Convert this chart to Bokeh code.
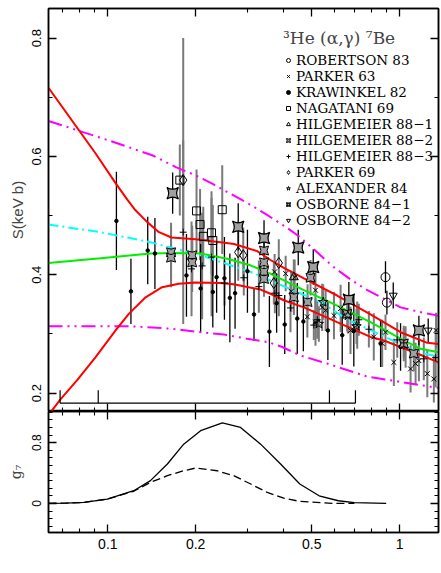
import numpy as np
from bokeh.plotting import figure
from bokeh.models import (Range1d, FixedTicker, LogAxis, LinearAxis, Legend,
                          LegendItem, Label)
from bokeh.layouts import column
from bokeh.embed import file_html
from bokeh.resources import INLINE

# ---------------- axes ----------------
E_MIN, E_MAX = 0.0626, 1.36
S_MIN, S_MAX = 0.169, 0.85
G_MIN, G_MAX = -0.383, 1.21
E_TICKS = [0.1, 0.2, 0.5, 1.0]
E_MINOR = [0.07, 0.08, 0.09, 0.3, 0.4, 0.6, 0.7, 0.8, 0.9]
S_TICKS = [0.2, 0.4, 0.6, 0.8]
S_MINOR = [0.3, 0.5, 0.7]
G_TICKS = [0.0, 0.8]
G_MINOR = [-0.3, -0.2, -0.1, 0.1, 0.2, 0.3, 0.4, 0.5, 0.6, 0.7, 0.9, 1.0, 1.1, 1.2]

# ---------------- model curves (S-factor, keV b) ----------------
RED_UP_E = [0.0626, 0.0908, 0.1063, 0.1166, 0.1244, 0.1365, 0.1497, 0.1653, 0.2, 0.2434,
            0.2706, 0.325, 0.361, 0.40, 0.47, 0.611, 0.795, 1.008, 1.245, 1.36]
RED_UP_S = [0.716, 0.605, 0.555, 0.527, 0.509, 0.489, 0.472, 0.463, 0.460, 0.455,
            0.452, 0.440, 0.425, 0.412, 0.394, 0.365, 0.333, 0.303, 0.285, 0.283]
RED_LO_E = [0.0626, 0.0689, 0.0785, 0.0908, 0.1063, 0.118, 0.1347, 0.1535, 0.175, 0.2,
            0.2434, 0.27, 0.334, 0.361, 0.401, 0.47, 0.611, 0.795, 0.884, 1.15, 1.36]
RED_LO_S = [0.163, 0.19, 0.222, 0.261, 0.306, 0.334, 0.362, 0.379, 0.385, 0.387,
            0.386, 0.384, 0.375, 0.368, 0.357, 0.345, 0.320, 0.295, 0.289, 0.267, 0.252]
GREEN_E = [0.0626, 0.0944, 0.140, 0.168, 0.208, 0.2566, 0.308, 0.361, 0.381, 0.47,
           0.611, 0.795, 1.008, 1.18, 1.36]
GREEN_S = [0.420, 0.428, 0.436, 0.437, 0.436, 0.427, 0.416, 0.402, 0.396, 0.374,
           0.348, 0.320, 0.292, 0.275, 0.269]
CYAN_E = [0.0626, 0.0944, 0.14, 0.208, 0.308, 0.417, 0.536, 0.66, 0.85, 1.135, 1.36]
CYAN_S = [0.485, 0.472, 0.455, 0.433, 0.405, 0.377, 0.354, 0.325, 0.300, 0.270, 0.262]
MAG_UP_E = [0.0626, 0.1008, 0.142, 0.171, 0.2, 0.228, 0.25, 0.304, 0.347, 0.407, 0.455,
            0.595, 0.68, 0.775, 1.008, 1.2, 1.36]
MAG_UP_S = [0.660, 0.627, 0.602, 0.582, 0.568, 0.554, 0.543, 0.520, 0.503, 0.481, 0.464,
            0.413, 0.392, 0.374, 0.345, 0.336, 0.331]
MAG_LO_E = [0.0626, 0.1196, 0.164, 0.208, 0.25, 0.30, 0.356, 0.396, 0.455, 0.565, 0.775,
            1.008, 1.311, 1.36]
MAG_LO_S = [0.313, 0.313, 0.309, 0.303, 0.299, 0.292, 0.286, 0.278, 0.264, 0.250, 0.228,
            0.219, 0.210, 0.209]

# energy-range bracket at the bottom of the upper panel
RANGE_E = [0.0686, 0.0927, 0.575, 0.706]
RANGE_BASE = 0.183
RANGE_TOP = 0.205

# ---------------- data sets ----------------
ROB_E = [0.895, 0.905]
ROB_S = [0.396, 0.353]
ROB_ERR = [0.027, 0.02]

P63_E = [0.373, 0.407, 0.4253, 0.437, 0.483, 0.515, 0.515, 0.543, 0.558, 0.596, 0.628,
         0.679, 0.716, 0.816, 0.872, 0.895, 0.956, 1.049, 1.091, 1.135, 1.165, 1.245,
         1.311, 1.334]
P63_S = [0.405, 0.402, 0.372, 0.396, 0.329, 0.374, 0.320, 0.345, 0.340, 0.331, 0.343,
         0.306, 0.315, 0.295, 0.284, 0.303, 0.252, 0.278, 0.241, 0.250, 0.255, 0.233,
         0.224, 0.306]
P63_ERR = [0.03, 0.03, 0.035, 0.03, 0.035, 0.04, 0.04, 0.04, 0.035, 0.04, 0.04,
           0.04, 0.04, 0.04, 0.04, 0.03, 0.04, 0.035, 0.04, 0.035, 0.035, 0.04,
           0.04, 0.03]

KRAW_E = [0.107, 0.120, 0.137, 0.145, 0.186, 0.208, 0.229, 0.236, 0.251, 0.262, 0.273,
          0.301, 0.317, 0.358, 0.379, 0.404, 0.446, 0.468, 0.568, 0.636, 0.697, 0.861,
          1.008]
KRAW_S = [0.491, 0.372, 0.441, 0.436, 0.399, 0.377, 0.371, 0.396, 0.394, 0.361, 0.369,
          0.406, 0.333, 0.304, 0.352, 0.316, 0.326, 0.321, 0.306, 0.298, 0.305, 0.284,
          0.278]
KRAW_ERR = [0.083, 0.055, 0.057, 0.06, 0.07, 0.075, 0.06, 0.06, 0.07, 0.075, 0.06,
            0.07, 0.045, 0.06, 0.05, 0.05, 0.06, 0.05, 0.05, 0.05, 0.06, 0.04, 0.04]

NAG_E = [0.1765, 0.2014, 0.2071, 0.2124, 0.2267, 0.2290, 0.2467]
NAG_S = [0.560, 0.508, 0.485, 0.465, 0.471, 0.458, 0.510]
NAG_ERR = [0.06, 0.07, 0.06, 0.05, 0.07, 0.06, 0.075]

H1_E = [0.434]
H1_S = [0.396]
H1_ERR = [0.03]

H2_E = [0.1647, 0.1647, 0.1946, 0.1946, 0.3431, 0.3431, 0.3431, 0.3431, 0.4343, 0.4838,
        0.4953, 0.6617, 1.034, 1.119]
H2_S = [0.438, 0.429, 0.433, 0.421, 0.441, 0.421, 0.405, 0.393, 0.362, 0.354,
        0.395, 0.334, 0.284, 0.267]
H2_ERR = [0.05, 0.05, 0.05, 0.05, 0.03, 0.03, 0.03, 0.03, 0.03, 0.03,
          0.03, 0.03, 0.03, 0.03]

H3_E = [0.1813, 0.1936, 0.2105, 0.2267, 0.2513, 0.2925, 0.3294, 0.3737, 0.3856, 0.4228,
        0.5083, 0.5223, 0.725, 0.785, 0.982, 1.034, 1.211, 1.33]
H3_S = [0.472, 0.41, 0.415, 0.43, 0.386, 0.395, 0.38, 0.369, 0.365, 0.344,
        0.315, 0.324, 0.324, 0.308, 0.29, 0.285, 0.258, 0.26]
H3_ERR = [0.155, 0.08, 0.09, 0.10, 0.038, 0.03, 0.044, 0.034, 0.035, 0.041,
          0.025, 0.032, 0.027, 0.031, 0.03, 0.025, 0.036, 0.05]

P69_E = [0.1813, 0.2799, 0.2912, 0.3707, 0.3855]
P69_S = [0.560, 0.438, 0.433, 0.386, 0.420]
P69_LO = [0.475, 0.39, 0.39, 0.35, 0.38]
P69_HI = [0.800, 0.49, 0.48, 0.42, 0.46]

ALEX_E = [0.5289, 0.5474, 0.665, 0.7118]
ALEX_S = [0.317, 0.354, 0.331, 0.313]
ALEX_ERR = [0.03, 0.03, 0.03, 0.03]

OS1_E = [0.1668, 0.2799, 0.3431, 0.4495, 0.5060, 0.6702, 1.165]
OS1_S = [0.538, 0.481, 0.462, 0.446, 0.413, 0.358, 0.306]
OS1_ERR = [0.035, 0.04, 0.03, 0.03, 0.03, 0.03, 0.025]

OS2_E = [0.9515, 1.254]
OS2_S = [0.365, 0.306]
OS2_ERR = [0.022, 0.02]

# ---------------- g7 weighting (lower panel) ----------------
G_SOLID_E = [0.0626, 0.072, 0.0828, 0.0995, 0.1227, 0.140, 0.160, 0.182, 0.208, 0.247,
             0.285, 0.334, 0.391, 0.455, 0.53, 0.617, 0.70, 0.90]
G_SOLID = [0.0, 0.005, 0.013, 0.057, 0.167, 0.30, 0.519, 0.78, 0.958, 1.06,
           1.0, 0.78, 0.519, 0.255, 0.10, 0.035, 0.009, 0.0]
G_DASH_E = [0.0626, 0.072, 0.0828, 0.0995, 0.1227, 0.140, 0.160, 0.182, 0.2, 0.237,
            0.27, 0.309, 0.352, 0.401, 0.455, 0.595, 0.70]
G_DASH = [0.0, 0.005, 0.013, 0.057, 0.16, 0.277, 0.365, 0.43, 0.466, 0.43,
          0.365, 0.255, 0.145, 0.07, 0.026, 0.0, 0.0]

GRAY = "#7a7a7a"
FILL_GRAY = "#a0a0a0"
SANS = "Liberation Sans"
SERIF = "DejaVu Serif"


def style_axis(ax, labels=True, size="13px", major=8, minor=4):
    ax.major_tick_in = major
    ax.major_tick_out = 0
    ax.minor_tick_in = minor
    ax.minor_tick_out = 0
    ax.axis_line_color = "black"
    ax.axis_line_width = 1.5
    ax.major_tick_line_width = 1.3
    ax.minor_tick_line_width = 1.1
    ax.major_label_text_font = SANS
    ax.major_label_text_color = "black"
    ax.major_label_text_font_size = size
    if not labels:
        ax.major_label_text_font_size = "0px"
        ax.major_label_text_color = None
        ax.major_label_standoff = 0
        ax.axis_label = None


def bars(p, E, S, err, color, width):
    S = np.asarray(S)
    err = np.asarray(err)
    p.segment(x0=E, y0=S - err, x1=E, y1=S + err, line_color=color, line_width=width)


# ================= upper panel =================
top = figure(width=441, height=411, x_axis_type="log",
             x_range=Range1d(E_MIN, E_MAX), y_range=Range1d(S_MIN, S_MAX),
             output_backend="svg", toolbar_location=None,
             min_border_left=48, min_border_right=3, min_border_top=8, min_border_bottom=0,
             outline_line_color="black", outline_line_width=1.5)
top.grid.visible = False

top.xaxis.ticker = FixedTicker(ticks=E_TICKS, minor_ticks=E_MINOR)
style_axis(top.xaxis[0], labels=False)
top.yaxis.ticker = FixedTicker(ticks=S_TICKS, minor_ticks=S_MINOR)
style_axis(top.yaxis[0], labels=True, size="13px")
top.yaxis.major_label_orientation = "vertical"
top.yaxis.major_label_standoff = 7
top.yaxis.axis_label = "S(keV b)"
top.yaxis.axis_label_text_font = SANS
top.yaxis.axis_label_text_font_size = "15px"
top.yaxis.axis_label_text_font_style = "normal"
top.yaxis.axis_label_standoff = 4

ax_above = LogAxis(ticker=FixedTicker(ticks=E_TICKS, minor_ticks=E_MINOR))
style_axis(ax_above, labels=False)
top.add_layout(ax_above, "above")
ax_right = LinearAxis(ticker=FixedTicker(ticks=S_TICKS, minor_ticks=S_MINOR))
style_axis(ax_right, labels=False)
top.add_layout(ax_right, "right")

# error bars
bars(top, H3_E, H3_S, H3_ERR, GRAY, 2)
bars(top, NAG_E, NAG_S, NAG_ERR, GRAY, 2)
bars(top, H2_E, H2_S, H2_ERR, GRAY, 2)
bars(top, P63_E, P63_S, P63_ERR, GRAY, 2)
top.segment(x0=P69_E, y0=P69_LO, x1=P69_E, y1=P69_HI, line_color=GRAY, line_width=2)
bars(top, ALEX_E, ALEX_S, ALEX_ERR, GRAY, 2)
bars(top, H1_E, H1_S, H1_ERR, GRAY, 2)
bars(top, KRAW_E, KRAW_S, KRAW_ERR, "black", 1.3)
bars(top, ROB_E, ROB_S, ROB_ERR, "black", 1.3)
bars(top, OS1_E, OS1_S, OS1_ERR, "black", 1.3)
bars(top, OS2_E, OS2_S, OS2_ERR, "black", 1.3)

# curves
top.line(MAG_UP_E, MAG_UP_S, line_color="#ff00ff", line_width=2, line_dash="14 5 2 5 2 5")
top.line(MAG_LO_E, MAG_LO_S, line_color="#ff00ff", line_width=2, line_dash="14 5 2 5 2 5")
top.line(CYAN_E, CYAN_S, line_color="#00ffff", line_width=2, line_dash="10 4 2 4")
top.line(GREEN_E, GREEN_S, line_color="#00ee00", line_width=2)
top.line(RED_UP_E, RED_UP_S, line_color="#ff0000", line_width=2)
top.line(RED_LO_E, RED_LO_S, line_color="#ff0000", line_width=2)

# energy range bracket
top.segment(x0=RANGE_E[0], y0=RANGE_BASE, x1=RANGE_E[-1], y1=RANGE_BASE, line_color="black", line_width=1.2)
top.segment(x0=RANGE_E, y0=[RANGE_BASE] * 4, x1=RANGE_E, y1=[RANGE_TOP] * 4,
            line_color="black", line_width=1.2)

# markers
r_rob = top.scatter(ROB_E, ROB_S, marker="circle", size=9, fill_color=None, line_color="black", line_width=1)
r_p63 = top.scatter(P63_E, P63_S, marker="x", size=7, line_color="black", line_width=1)
r_kraw = top.scatter(KRAW_E, KRAW_S, marker="circle", size=3.5, fill_color="black", line_color="black")
r_nag = top.scatter(NAG_E, NAG_S, marker="square", size=8, fill_color=None, line_color="black", line_width=1)
r_h1 = top.scatter(H1_E, H1_S, marker="triangle", size=9, fill_color=None, line_color="black", line_width=1)
r_h2 = top.scatter(H2_E, H2_S, marker="square_pin", size=9, fill_color=FILL_GRAY, line_color="black", line_width=1)
r_h3 = top.scatter(H3_E, H3_S, marker="cross", size=7, line_color="black", line_width=1)
r_p69 = top.scatter(P69_E, P69_S, marker="diamond", size=11, fill_color=None, line_color="black", line_width=1)
r_alex = top.scatter(ALEX_E, ALEX_S, marker="star", size=10, fill_color=None, line_color="black", line_width=1)
r_os1 = top.scatter(OS1_E, OS1_S, marker="square_pin", size=11.5, fill_color=FILL_GRAY, line_color="black", line_width=1.2)
r_os2 = top.scatter(OS2_E, OS2_S, marker="inverted_triangle", size=8, fill_color=None, line_color="black", line_width=1)

items = [
    LegendItem(label="ROBERTSON 83", renderers=[r_rob]),
    LegendItem(label="PARKER 63", renderers=[r_p63]),
    LegendItem(label="KRAWINKEL 82", renderers=[r_kraw]),
    LegendItem(label="NAGATANI 69", renderers=[r_nag]),
    LegendItem(label="HILGEMEIER 88−1", renderers=[r_h1]),
    LegendItem(label="HILGEMEIER 88−2", renderers=[r_h2]),
    LegendItem(label="HILGEMEIER 88−3", renderers=[r_h3]),
    LegendItem(label="PARKER 69", renderers=[r_p69]),
    LegendItem(label="ALEXANDER 84", renderers=[r_alex]),
    LegendItem(label="OSBORNE 84−1", renderers=[r_os1]),
    LegendItem(label="OSBORNE 84−2", renderers=[r_os2]),
]
legend = Legend(items=items, location=(235, 183), title="³He (α,γ) ⁷Be",
                title_text_font=SERIF, title_text_font_size="17px", title_text_font_style="normal",
                title_standoff=4,
                label_text_font=SERIF, label_text_font_size="13.5px", label_text_color="black",
                label_height=16, glyph_height=16, glyph_width=10, label_standoff=3,
                spacing=0, padding=0, margin=0,
                background_fill_alpha=0, border_line_alpha=0)
top.add_layout(legend)

# ================= lower panel =================
bot = figure(width=441, height=162, x_axis_type="log",
             x_range=top.x_range, y_range=Range1d(G_MIN, G_MAX),
             output_backend="svg", toolbar_location=None,
             min_border_left=48, min_border_right=3, min_border_top=0, min_border_bottom=41,
             outline_line_color="black", outline_line_width=1.5)
bot.grid.visible = False
bot.xaxis.ticker = FixedTicker(ticks=E_TICKS, minor_ticks=E_MINOR)
style_axis(bot.xaxis[0], labels=True, size="14px")
bot.xaxis.major_label_standoff = 6
bot.yaxis.ticker = FixedTicker(ticks=G_TICKS, minor_ticks=G_MINOR)
style_axis(bot.yaxis[0], labels=True, size="12px")
bot.yaxis.major_label_orientation = "vertical"
bot.yaxis.major_label_standoff = 7
bot.yaxis.axis_label = "g₇"
bot.yaxis.axis_label_text_font = SERIF
bot.yaxis.axis_label_text_font_size = "14px"
bot.yaxis.axis_label_text_font_style = "normal"
bot.yaxis.axis_label_standoff = 6

bx_above = LogAxis(ticker=FixedTicker(ticks=E_TICKS, minor_ticks=E_MINOR))
style_axis(bx_above, labels=False)
bot.add_layout(bx_above, "above")
by_right = LinearAxis(ticker=FixedTicker(ticks=G_TICKS, minor_ticks=G_MINOR))
style_axis(by_right, labels=False)
bot.add_layout(by_right, "right")

bot.line(G_SOLID_E, G_SOLID, line_color="black", line_width=1.3)
bot.line(G_DASH_E, G_DASH, line_color="black", line_width=1.3, line_dash="8 4")

# x-axis title with subscript
bot.add_layout(Label(x=162, y=-31, x_units="screen", y_units="screen", text="E",
                     text_font=SERIF, text_font_size="13.5px", text_baseline="middle", text_color="black"))
bot.add_layout(Label(x=171, y=-35, x_units="screen", y_units="screen", text="CM",
                     text_font=SERIF, text_font_size="10.5px", text_baseline="middle", text_color="black"))
bot.add_layout(Label(x=194, y=-31, x_units="screen", y_units="screen", text="(MeV)",
                     text_font=SERIF, text_font_size="13.5px", text_baseline="middle", text_color="black"))

layout = column(top, bot, spacing=0)
open("out.html", "w").write(file_html(layout, INLINE))
